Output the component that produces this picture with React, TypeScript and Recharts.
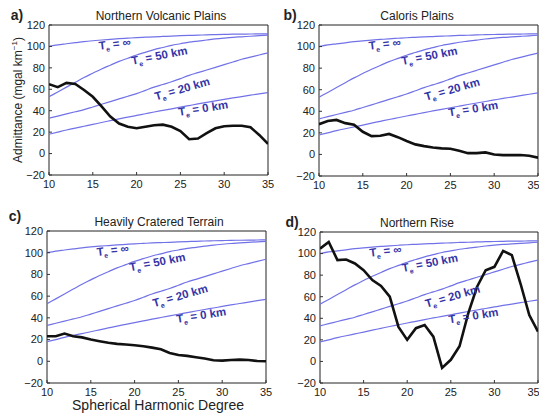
import React from 'react';
import { LineChart, Line, XAxis, YAxis, ReferenceArea, ReferenceDot } from 'recharts';

// spherical harmonic degree
const degrees = [10, 11, 12, 13, 14, 15, 16, 17, 18, 19, 20, 21, 22, 23, 24, 25, 26, 27, 28, 29, 30, 31, 32, 33, 34, 35];

// model admittance curves (same in every panel)
const teInf = [100, 101.5, 102.5, 103.5, 104.5, 105.3, 106, 106.6, 107.2, 107.7, 108.2, 108.6, 109, 109.3, 109.6, 110, 110.3, 110.5, 110.8, 111, 111.2, 111.4, 111.5, 111.6, 111.7, 111.8];
const te50 = [53, 57.5, 62, 66.5, 71, 75, 79, 82.5, 86, 89, 92, 94.5, 97, 99, 101, 102.5, 104, 105, 106, 107, 107.8, 108.5, 109, 109.5, 110, 110.5];
const te20 = [33, 35, 37, 39, 41, 43.5, 46, 48.5, 51, 53.5, 56, 59, 62, 64.5, 67, 70, 73, 75.5, 78, 80.5, 83, 85.5, 88, 90, 92, 94];
const te0 = [18, 20, 22, 23.8, 25.5, 27.2, 29, 30.7, 32.4, 34, 35.6, 37.2, 38.8, 40.3, 41.8, 43.3, 44.8, 46.3, 47.7, 49.1, 50.5, 51.9, 53.2, 54.5, 55.8, 57];

// observed admittance per region
const northernVolcanic = [64.7, 62, 66, 65, 59.4, 53, 44, 34.5, 28, 25, 23.6, 25, 26.5, 27, 25, 21, 13.4, 14, 19, 23.6, 25.5, 26, 26, 24.5, 17.4, 9];
const calorisPlains = [28, 31, 32, 29, 27.5, 21, 17, 17.3, 19, 16, 12.4, 9.3, 7.7, 6.5, 5.6, 5.3, 3.4, 1.2, 1.2, 1.9, 0, -0.6, -0.6, -0.6, -1.2, -3];
const crateredTerrain = [23, 23, 25.5, 23, 22, 20, 18.5, 17, 16, 15.4, 14.8, 13.8, 12.6, 11, 7.7, 5.8, 5, 3.7, 2.5, 1, 0.6, 1.2, 1.5, 1.2, 0.3, 0];
const northernRise = [104.6, 110.8, 94, 94.5, 90.8, 84.6, 75.4, 70, 60, 32, 20, 30.8, 33.8, 23, -6, 1.5, 14, 44.6, 69, 84.6, 87.7, 102.5, 98.5, 72, 43, 27.7];

const xTicks = [10, 15, 20, 25, 30, 35];
const yTicks = [-20, 0, 20, 40, 60, 80, 100, 120];

const FONT = '"Liberation Sans", Arial, sans-serif';
const MODEL = '#7272e8';
const LABEL = '#3434a6';

const TeLabel = ({ cx, cy, text, angle }: any) => (
  <g transform={`translate(${cx} ${cy}) rotate(${angle})`}>
    <text
      x={0}
      y={4}
      textAnchor="middle"
      fill={LABEL}
      fontFamily={FONT}
      fontWeight="bold"
      fontSize={11.5}
    >
      T<tspan dy={3} fontSize={7}>e</tspan>
      <tspan dy={-3}>{` = ${text}`}</tspan>
    </text>
  </g>
);

const teLabels = [
  { x: 17.5, y: 102.5, text: '\u221e', angle: -7 },
  { x: 22.6, y: 91.5, text: '50 km', angle: -11 },
  { x: 25.2, y: 60.5, text: '20 km', angle: -16 },
  { x: 27.6, y: 42.5, text: '0 km', angle: -9 },
];

const fmt = (v: number) => (v < 0 ? `\u2212${Math.abs(v)}` : `${v}`);

interface PanelProps {
  obs: number[];
  left: number;
  top: number;
  width: number;
  height: number;
  margin: { top: number; right: number; left: number; bottom: number };
}

const Panel: React.FC<PanelProps> = ({ obs, left, top, width, height, margin }) => {
  const rows = degrees.map((d, i) => ({
    deg: d,
    inf: teInf[i],
    t50: te50[i],
    t20: te20[i],
    t0: te0[i],
    obs: obs[i],
  }));
  const tick = { fontSize: 11, fill: '#222', fontFamily: FONT };
  return (
    <div style={{ position: 'absolute', left, top }}>
      <LineChart width={width} height={height} data={rows} margin={margin}>
        <XAxis
          dataKey="deg"
          type="number"
          domain={[10, 35]}
          ticks={xTicks}
          tick={tick}
          axisLine={false}
          tickLine={{ stroke: '#333' }}
          tickSize={-3}
          tickMargin={8}
          height={20}
          allowDataOverflow
        />
        <YAxis
          type="number"
          domain={[-20, 120]}
          ticks={yTicks}
          tick={tick}
          tickFormatter={fmt}
          axisLine={false}
          tickLine={{ stroke: '#333' }}
          tickSize={-3}
          tickMargin={7}
          width={40}
          allowDataOverflow
        />
        <ReferenceArea x1={10} x2={35} y1={-20} y2={120} fill="none" stroke="#222" strokeWidth={1} />
        <Line dataKey="inf" stroke={MODEL} strokeWidth={1.2} dot={false} type="monotone" isAnimationActive={false} />
        <Line dataKey="t50" stroke={MODEL} strokeWidth={1.2} dot={false} type="monotone" isAnimationActive={false} />
        <Line dataKey="t20" stroke={MODEL} strokeWidth={1.2} dot={false} type="monotone" isAnimationActive={false} />
        <Line dataKey="t0" stroke={MODEL} strokeWidth={1.2} dot={false} type="monotone" isAnimationActive={false} />
        <Line dataKey="obs" stroke="#111" strokeWidth={2.6} dot={false} type="linear" isAnimationActive={false} />
        {teLabels.map((l) => (
          <ReferenceDot
            key={l.text}
            x={l.x}
            y={l.y}
            r={0}
            shape={(p: any) => <TeLabel cx={p.cx} cy={p.cy} text={l.text} angle={l.angle} />}
          />
        ))}
      </LineChart>
    </div>
  );
};

const Text: React.FC<{ x: number; y: number; size: number; bold?: boolean; children: React.ReactNode }> = ({ x, y, size, bold, children }) => (
  <div
    style={{
      position: 'absolute',
      left: x,
      top: y - size / 2,
      transform: 'translateX(-50%)',
      fontSize: size,
      lineHeight: `${size}px`,
      fontWeight: bold ? 'bold' : 'normal',
      fontFamily: FONT,
      color: '#222',
      whiteSpace: 'nowrap',
    }}
  >
    {children}
  </div>
);

export default function App() {
  return (
    <div style={{ position: 'absolute', left: 0, top: 0, width: 539, height: 416, background: '#fff', overflow: 'hidden' }}>
      <Panel obs={northernVolcanic} left={0} top={0} width={280} height={200} margin={{ top: 25, right: 12, left: 9, bottom: 5 }} />
      <Panel obs={calorisPlains} left={270} top={0} width={269} height={200} margin={{ top: 25, right: 1, left: 9, bottom: 4 }} />
      <Panel obs={crateredTerrain} left={0} top={200} width={280} height={210} margin={{ top: 31, right: 14, left: 7, bottom: 7 }} />
      <Panel obs={northernRise} left={270} top={200} width={269} height={210} margin={{ top: 32, right: 1, left: 10, bottom: 7 }} />

      <Text x={161} y={16} size={12}>Northern Volcanic Plains</Text>
      <Text x={417} y={16} size={12}>Caloris Plains</Text>
      <Text x={159} y={222} size={12}>Heavily Cratered Terrain</Text>
      <Text x={417} y={223} size={12}>Northern Rise</Text>

      <Text x={17} y={15} size={14} bold>a)</Text>
      <Text x={290} y={15} size={14} bold>b)</Text>
      <Text x={15} y={216} size={14} bold>c)</Text>
      <Text x={292} y={222} size={14} bold>d)</Text>

      <Text x={158} y={405} size={14}>Spherical Harmonic Degree</Text>

      <div
        style={{
          position: 'absolute',
          left: 17,
          top: 100,
          transform: 'translate(-50%, -50%) rotate(-90deg)',
          fontSize: 12,
          fontFamily: FONT,
          color: '#222',
          whiteSpace: 'nowrap',
        }}
      >
        Admittance (mgal km<sup style={{ fontSize: 8 }}>−1</sup>)
      </div>
    </div>
  );
}
